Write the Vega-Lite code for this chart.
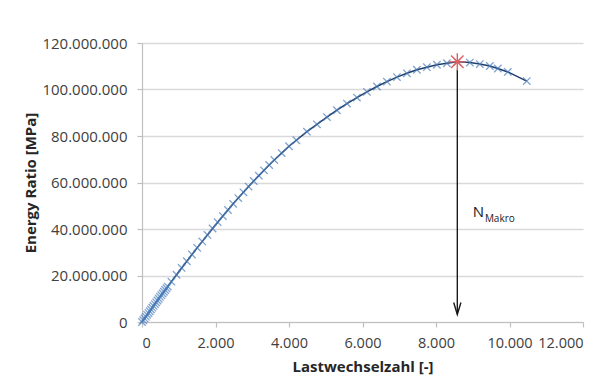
{
  "$schema": "https://vega.github.io/schema/vega-lite/v6.json",
  "width": 441,
  "height": 279,
  "autosize": {"type": "none"},
  "padding": {"left": 142, "top": 43, "right": 28, "bottom": 59},
  "background": "white",
  "config": {
    "locale": {"number": {"decimal": ",", "thousands": ".", "grouping": [3], "currency": ["", " €"]}},
    "view": {"stroke": null},
    "font": "Open Sans",
    "axis": {
      "labelFont": "Open Sans",
      "labelFontSize": 15,
      "labelColor": "#404040",
      "titleFont": "Open Sans",
      "titleFontSize": 15,
      "titleFontWeight": "bold",
      "titleColor": "#262626",
      "domainColor": "#bfbfbf",
      "domainWidth": 1.2,
      "tickColor": "#bfbfbf",
      "tickWidth": 1.2,
      "tickSize": 5,
      "gridColor": "#d9d9d9",
      "gridWidth": 1.5
    }
  },
  "datasets": {
    "curve": [
      {"x": 0, "y": 0}, {"x": 35, "y": 0.77}, {"x": 70, "y": 1.54}, {"x": 105, "y": 2.31}, {"x": 140, "y": 3.08},
      {"x": 175, "y": 3.85}, {"x": 210, "y": 4.62}, {"x": 245, "y": 5.39}, {"x": 280, "y": 6.16}, {"x": 315, "y": 6.93},
      {"x": 350, "y": 7.7}, {"x": 385, "y": 8.47}, {"x": 420, "y": 9.24}, {"x": 455, "y": 10.01}, {"x": 490, "y": 10.78},
      {"x": 525, "y": 11.53}, {"x": 560, "y": 12.27}, {"x": 595, "y": 13.01}, {"x": 630, "y": 13.76}, {"x": 665, "y": 14.5},
      {"x": 700, "y": 15.24}, {"x": 800, "y": 17.36}, {"x": 940, "y": 20.33}, {"x": 1080, "y": 23.25}, {"x": 1220, "y": 26.13},
      {"x": 1360, "y": 29.02}, {"x": 1500, "y": 31.9}, {"x": 1640, "y": 34.67}, {"x": 1780, "y": 37.44}, {"x": 1920, "y": 40.22},
      {"x": 2060, "y": 42.93}, {"x": 2200, "y": 45.56}, {"x": 2340, "y": 48.19}, {"x": 2480, "y": 50.82}, {"x": 2620, "y": 53.31},
      {"x": 2760, "y": 55.78}, {"x": 2900, "y": 58.24}, {"x": 3040, "y": 60.66}, {"x": 3180, "y": 62.95}, {"x": 3320, "y": 65.25},
      {"x": 3460, "y": 67.54}, {"x": 3600, "y": 69.68}, {"x": 3800, "y": 72.64}, {"x": 4000, "y": 75.6}, {"x": 4200, "y": 78.16},
      {"x": 4488, "y": 81.85}, {"x": 4760, "y": 85.02}, {"x": 5032, "y": 88.15}, {"x": 5304, "y": 91.08}, {"x": 5576, "y": 93.93},
      {"x": 5848, "y": 96.54}, {"x": 6120, "y": 99.0}, {"x": 6392, "y": 101.29}, {"x": 6664, "y": 103.38}, {"x": 6936, "y": 105.34},
      {"x": 7208, "y": 106.96}, {"x": 7480, "y": 108.49}, {"x": 7752, "y": 109.61}, {"x": 8024, "y": 110.65}, {"x": 8296, "y": 111.28},
      {"x": 8580, "y": 111.9}, {"x": 8921, "y": 111.57}, {"x": 9193, "y": 110.92}, {"x": 9465, "y": 110.1}, {"x": 9682, "y": 109.02},
      {"x": 9954, "y": 107.55}, {"x": 10470, "y": 103.63}
    ],
    "peak": [{"x": 8580, "y": 111.9}],
    "arrow": [{"x": 8580, "y": 108.5, "y2": 3.4}],
    "arrowhead": [{"x": 8580, "y": 3.2}],
    "labelN": [{"x": 9000, "y": 47.2, "t": "N"}],
    "labelSub": [{"x": 9330, "y": 44.2, "t": "Makro"}]
  },
  "layer": [
    {
      "data": {"name": "curve"},
      "mark": {"type": "line", "color": "#1f3d6b", "strokeWidth": 1.5},
      "encoding": {
        "x": {
          "field": "x", "type": "quantitative",
          "scale": {"domain": [0, 12000], "nice": false, "zero": false},
          "axis": {
            "title": "Lastwechselzahl [-]",
            "values": [0, 2000, 4000, 6000, 8000, 10000, 12000],
            "format": ",d",
            "grid": false,
            "labelFontSize": 14.5,
            "labelPadding": 9,
            "titlePadding": 10
          }
        },
        "y": {
          "field": "y", "type": "quantitative",
          "scale": {"domain": [0, 120], "nice": false},
          "axis": {
            "title": "Energy Ratio [MPa]",
            "values": [0, 20, 40, 60, 80, 100, 120],
            "labelExpr": "format(datum.value * 1000000, ',d')",
            "grid": true,
            "labelPadding": 10,
            "titlePadding": 3
          }
        }
      }
    },
    {
      "data": {"name": "curve"},
      "mark": {
        "type": "point",
        "shape": "M-1,-1L1,1M-1,1L1,-1",
        "filled": false,
        "color": "#4a7ebb",
        "size": 55,
        "strokeWidth": 1.3
      },
      "encoding": {
        "x": {"field": "x", "type": "quantitative"},
        "y": {"field": "y", "type": "quantitative"}
      }
    },
    {
      "data": {"name": "arrow"},
      "mark": {"type": "rule", "color": "#1a1a1a", "strokeWidth": 1.4},
      "encoding": {
        "x": {"field": "x", "type": "quantitative"},
        "y": {"field": "y", "type": "quantitative"},
        "y2": {"field": "y2"}
      }
    },
    {
      "data": {"name": "arrowhead"},
      "mark": {
        "type": "point",
        "shape": "M-0.6,-2L0,0L0.6,-2",
        "filled": false,
        "color": "#1a1a1a",
        "size": 144,
        "strokeWidth": 1.4,
        "opacity": 1
      },
      "encoding": {
        "x": {"field": "x", "type": "quantitative"},
        "y": {"field": "y", "type": "quantitative"}
      }
    },
    {
      "data": {"name": "peak"},
      "mark": {
        "type": "point",
        "shape": "M-1,0L1,0M0,-1L0,1M-0.72,-0.72L0.72,0.72M-0.72,0.72L0.72,-0.72",
        "filled": false,
        "color": "#e06060",
        "size": 300,
        "strokeWidth": 1.4,
        "opacity": 1
      },
      "encoding": {
        "x": {"field": "x", "type": "quantitative"},
        "y": {"field": "y", "type": "quantitative"}
      }
    },
    {
      "data": {"name": "labelN"},
      "mark": {"type": "text", "align": "left", "baseline": "middle", "fontSize": 15, "color": "#1a1a1a", "font": "Open Sans"},
      "encoding": {
        "x": {"field": "x", "type": "quantitative"},
        "y": {"field": "y", "type": "quantitative"},
        "text": {"field": "t"}
      }
    },
    {
      "data": {"name": "labelSub"},
      "mark": {"type": "text", "align": "left", "baseline": "middle", "fontSize": 10, "color": "#1a1a1a", "font": "Open Sans"},
      "encoding": {
        "x": {"field": "x", "type": "quantitative"},
        "y": {"field": "y", "type": "quantitative"},
        "text": {"field": "t"}
      }
    }
  ]
}
